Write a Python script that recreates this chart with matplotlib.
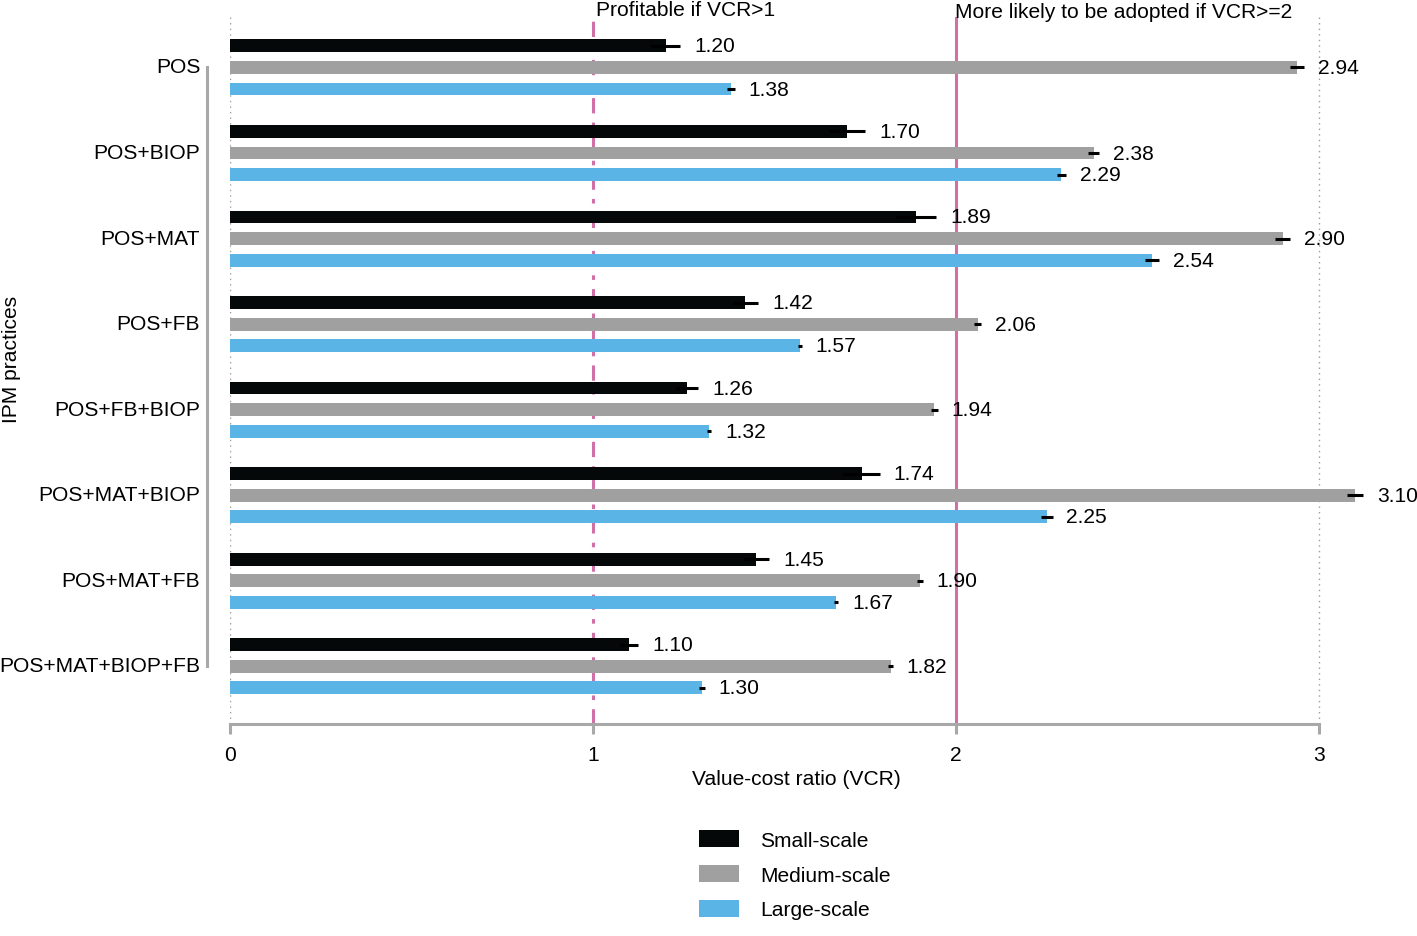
import matplotlib
matplotlib.use("Agg")
import matplotlib.pyplot as plt
import matplotlib.transforms as mtransforms
from matplotlib.patches import Patch
import numpy as np

plt.rcParams['font.family'] = ['Liberation Sans', 'DejaVu Sans']

practices = ["POS", "POS+BIOP", "POS+MAT", "POS+FB", "POS+FB+BIOP",
             "POS+MAT+BIOP", "POS+MAT+FB", "POS+MAT+BIOP+FB"]
series_names = ["Small-scale", "Medium-scale", "Large-scale"]
small_vals = [1.20, 1.70, 1.89, 1.42, 1.26, 1.74, 1.45, 1.10]
medium_vals = [2.94, 2.38, 2.90, 2.06, 1.94, 3.10, 1.90, 1.82]
large_vals = [1.38, 2.29, 2.54, 1.57, 1.32, 2.25, 1.67, 1.30]
small_err = [0.04, 0.05, 0.055, 0.035, 0.03, 0.05, 0.035, 0.025]
medium_err = [0.02, 0.015, 0.02, 0.01, 0.01, 0.022, 0.008, 0.006]
large_err = [0.01, 0.012, 0.02, 0.005, 0.006, 0.016, 0.006, 0.008]
x_ticks = [0, 1, 2, 3]
ref_lines = [1, 2]
ref_texts = ["Profitable if VCR>1", "More likely to be adopted if VCR>=2"]

colors = ["#050808", "#a0a0a0", "#5ab4e5"]
pink = "#cf70a6"
axis_gray = "#a8a8a8"
FS = 15.1

W, H = 1417, 937
fig = plt.figure(figsize=(W / 100, H / 100), dpi=100)
left_px, right_px, top_px, bot_px = 230, 230 + 3.2 * 363, 18, 725
ax = fig.add_axes([left_px / W, 1 - bot_px / H, (right_px - left_px) / W, (bot_px - top_px) / H])

# spines first (set_position resets tick properties)
for s in ["top", "right"]:
    ax.spines[s].set_visible(False)
ax.spines["left"].set_position(("outward", 16.5))
ax.spines["left"].set_color(axis_gray)
ax.spines["left"].set_linewidth(2.2)
ax.spines["bottom"].set_color(axis_gray)
ax.spines["bottom"].set_linewidth(2.2)

y = np.arange(len(practices))
offsets = [-0.252, 0.0, 0.252]
bar_h = 0.15
all_vals = [small_vals, medium_vals, large_vals]
all_errs = [small_err, medium_err, large_err]

# reference lines / dotted grid
for xv in [0, 3]:
    ax.axvline(xv, color="#9a9a9a", lw=1.0, ls=(0, (1, 3)), zorder=0)
ax.axvline(ref_lines[0], color=pink, lw=2.2, ls=(0, (5, 3, 1.5, 3)), zorder=1)
ax.axvline(ref_lines[1], color=pink, lw=2.2, zorder=1)

for vals, errs, off, c in zip(all_vals, all_errs, offsets, colors):
    ax.barh(y + off, vals, height=bar_h, color=c, zorder=2)
    ax.errorbar(vals, y + off, xerr=errs, fmt="none", ecolor="black", elinewidth=2.2, capsize=0, zorder=3)
    for yi, v, e in zip(y + off, vals, errs):
        ax.annotate(f"{v:.2f}", xy=(v + e, yi), xytext=(10, 0), textcoords="offset points",
                    va="center", ha="left", fontsize=FS, zorder=4)

ax.set_xlim(0, 3.2)
ax.set_ylim(7.675, -0.59)
ax.set_yticks(y)
ax.set_yticklabels(practices, fontsize=FS)
ax.set_xticks(x_ticks)
ax.set_xticklabels([str(t) for t in x_ticks], fontsize=FS)
ax.spines["left"].set_bounds(0, 7)
ax.spines["bottom"].set_bounds(0, 3)
ax.tick_params(axis="y", length=0, pad=5)
ax.tick_params(axis="x", length=7, width=2.2, color=axis_gray, pad=8)
shift = mtransforms.ScaledTranslation(0, 2.5 / 100, fig.dpi_scale_trans)
for lbl in ax.get_yticklabels():
    lbl.set_transform(lbl.get_transform() + shift)

# reference line texts
trans = mtransforms.blended_transform_factory(ax.transData, fig.transFigure)
ax.text(ref_lines[0] + 0.008, 1 - 11 / H, ref_texts[0], transform=trans, ha="left", va="center", fontsize=FS)
ax.text(ref_lines[1] - 0.002, 1 - 13 / H, ref_texts[1], transform=trans, ha="left", va="center", fontsize=FS)

# axis labels
ax.text(1.559, 1 - 780 / H, "Value-cost ratio (VCR)", transform=trans, ha="center", va="center", fontsize=FS)
fig.text(12 / W, 1 - 359 / H, "IPM practices", rotation=90, ha="center", va="center", fontsize=FS)

handles = [Patch(facecolor=c, edgecolor="none") for c in colors]
fig.legend(handles, series_names, loc="upper left", bbox_to_anchor=(699 / W, 1 - 831 / H),
           frameon=False, fontsize=FS, handlelength=1.9, handleheight=0.87,
           handletextpad=1.02, labelspacing=0.72, borderpad=0, borderaxespad=0)

fig.savefig("out.png", dpi=100)
